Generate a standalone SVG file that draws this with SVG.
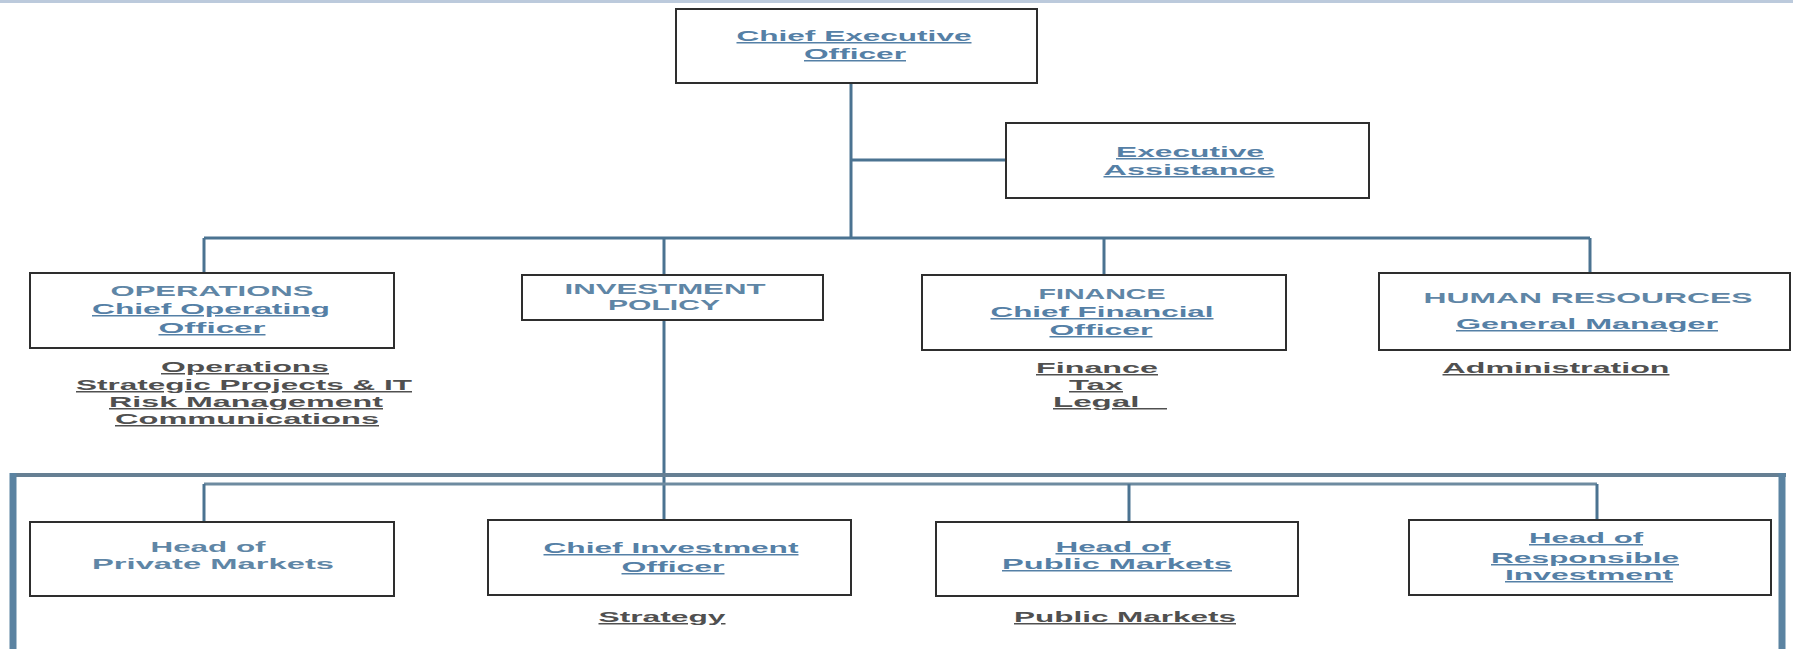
<svg xmlns="http://www.w3.org/2000/svg" width="1793" height="649" viewBox="0 0 1793 649">
<style>
.box{fill:#ffffff;stroke:#2e2e2e;stroke-width:2}
.ln{stroke:#4b7391;stroke-width:3;fill:none}
text{font-family:"Liberation Sans",Arial,sans-serif;font-weight:bold;font-size:15px;text-anchor:middle}
.t{fill:#5f86a6}
.tl{fill:#5580a6;text-decoration:underline;text-decoration-color:#a9bccd}
.s{fill:#505050;text-decoration:underline;text-decoration-color:#8a8a8a}
</style>
<rect x="0" y="0" width="1793" height="3" fill="#bccadc"/>
<g id="connectors">
<line class="ln" x1="851" y1="83" x2="851" y2="238"/>
<line class="ln" x1="851" y1="160" x2="1006" y2="160"/>
<line class="ln" x1="204" y1="238" x2="1590" y2="238"/>
<line class="ln" x1="204" y1="238" x2="204" y2="273"/>
<line class="ln" x1="664" y1="238" x2="664" y2="275"/>
<line class="ln" x1="1104" y1="238" x2="1104" y2="275"/>
<line class="ln" x1="1590" y1="238" x2="1590" y2="273"/>
<line class="ln" x1="664" y1="320" x2="664" y2="520"/>
<line x1="10" y1="475" x2="1786" y2="475" stroke="#667f93" stroke-width="4"/>
<line x1="13" y1="473" x2="13" y2="649" stroke="#5b83a1" stroke-width="7"/>
<line x1="1782" y1="473" x2="1782" y2="649" stroke="#5b83a1" stroke-width="7"/>
<line x1="204" y1="484" x2="1597" y2="484" stroke="#6e8ba0" stroke-width="3"/>
<line class="ln" x1="204" y1="484" x2="204" y2="522"/>
<line class="ln" x1="1129" y1="484" x2="1129" y2="522"/>
<line class="ln" x1="1597" y1="484" x2="1597" y2="520"/>
</g>
<g id="ceo">
<rect class="box" x="676" y="9" width="361" height="74"/>
<text class="tl" x="854" y="41" textLength="235" lengthAdjust="spacingAndGlyphs">Chief Executive</text>
<text class="tl" x="855" y="59" textLength="102" lengthAdjust="spacingAndGlyphs">Officer</text>
</g>
<g id="exec-assistance">
<rect class="box" x="1006" y="123" width="363" height="75"/>
<text class="tl" x="1190" y="157" textLength="148" lengthAdjust="spacingAndGlyphs">Executive</text>
<text class="tl" x="1189" y="175" textLength="171" lengthAdjust="spacingAndGlyphs">Assistance</text>
</g>
<g id="operations">
<rect class="box" x="30" y="273" width="364" height="75"/>
<text class="t" x="212" y="296" textLength="203" lengthAdjust="spacingAndGlyphs">OPERATIONS</text>
<text class="tl" x="211" y="314" textLength="238" lengthAdjust="spacingAndGlyphs">Chief Operating</text>
<text class="tl" x="212" y="333" textLength="107" lengthAdjust="spacingAndGlyphs">Officer</text>
<text class="s" x="245" y="372" textLength="168" lengthAdjust="spacingAndGlyphs">Operations</text>
<text class="s" x="244" y="390" textLength="336" lengthAdjust="spacingAndGlyphs">Strategic Projects &amp; IT</text>
<text class="s" x="246" y="407" textLength="274" lengthAdjust="spacingAndGlyphs">Risk Management</text>
<text class="s" x="247" y="424" textLength="264" lengthAdjust="spacingAndGlyphs">Communications</text>
</g>
<g id="investment-policy">
<rect class="box" x="522" y="275" width="301" height="45"/>
<text class="t" x="665" y="294" textLength="201" lengthAdjust="spacingAndGlyphs">INVESTMENT</text>
<text class="t" x="664" y="310" textLength="112" lengthAdjust="spacingAndGlyphs">POLICY</text>
</g>
<g id="finance">
<rect class="box" x="922" y="275" width="364" height="75"/>
<text class="t" x="1102" y="299" textLength="127" lengthAdjust="spacingAndGlyphs">FINANCE</text>
<text class="tl" x="1102" y="317" textLength="223" lengthAdjust="spacingAndGlyphs">Chief Financial</text>
<text class="tl" x="1101" y="335" textLength="103" lengthAdjust="spacingAndGlyphs">Officer</text>
<text class="s" x="1097" y="373" textLength="122" lengthAdjust="spacingAndGlyphs">Finance</text>
<text class="s" x="1096" y="390" textLength="54" lengthAdjust="spacingAndGlyphs">Tax</text>
<text class="s" x="1110" y="407" textLength="114" lengthAdjust="spacingAndGlyphs" xml:space="preserve">Legal&#160;&#160;&#160;</text>
</g>
<g id="human-resources">
<rect class="box" x="1379" y="273" width="411" height="77"/>
<text class="t" x="1588" y="303" textLength="329" lengthAdjust="spacingAndGlyphs">HUMAN RESOURCES</text>
<text class="tl" x="1587" y="329" textLength="262" lengthAdjust="spacingAndGlyphs">General Manager</text>
<text class="s" x="1556" y="373" textLength="227" lengthAdjust="spacingAndGlyphs">Administration</text>
</g>
<g id="private-markets">
<rect class="box" x="30" y="522" width="364" height="74"/>
<text class="t" x="208" y="552" textLength="115" lengthAdjust="spacingAndGlyphs">Head of</text>
<text class="t" x="213" y="569" textLength="242" lengthAdjust="spacingAndGlyphs">Private Markets</text>
</g>
<g id="cio">
<rect class="box" x="488" y="520" width="363" height="75"/>
<text class="tl" x="671" y="553" textLength="255" lengthAdjust="spacingAndGlyphs">Chief Investment</text>
<text class="tl" x="673" y="572" textLength="103" lengthAdjust="spacingAndGlyphs">Officer</text>
<text class="s" x="662" y="622" textLength="127" lengthAdjust="spacingAndGlyphs">Strategy</text>
</g>
<g id="public-markets">
<rect class="box" x="936" y="522" width="362" height="74"/>
<text class="tl" x="1113" y="552" textLength="115" lengthAdjust="spacingAndGlyphs">Head of</text>
<text class="tl" x="1117" y="569" textLength="230" lengthAdjust="spacingAndGlyphs">Public Markets</text>
<text class="s" x="1125" y="622" textLength="222" lengthAdjust="spacingAndGlyphs">Public Markets</text>
</g>
<g id="responsible-investment">
<rect class="box" x="1409" y="520" width="362" height="75"/>
<text class="tl" x="1586" y="543" textLength="114" lengthAdjust="spacingAndGlyphs">Head of</text>
<text class="tl" x="1585" y="563" textLength="188" lengthAdjust="spacingAndGlyphs">Responsible</text>
<text class="tl" x="1589" y="580" textLength="168" lengthAdjust="spacingAndGlyphs">Investment</text>
</g>
</svg>
